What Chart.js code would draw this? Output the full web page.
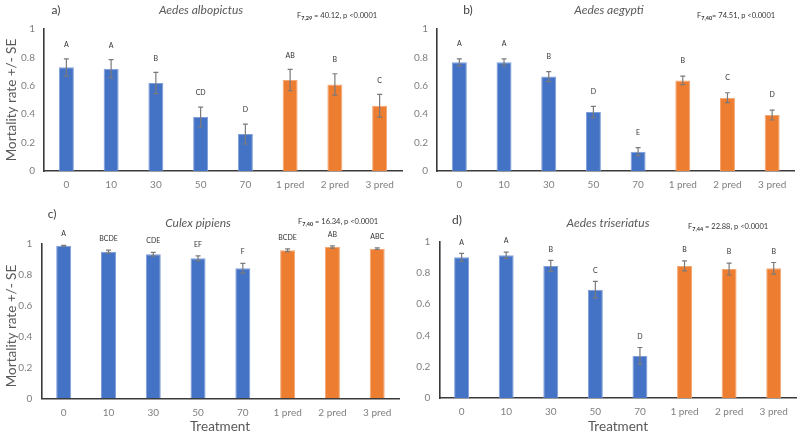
<!DOCTYPE html>
<html>
<head>
<meta charset="utf-8">
<script src="https://cdn.jsdelivr.net/npm/chart.js@4/dist/chart.umd.min.js"></script>
<style>
  body { margin: 0; background: #fff; }
  #wrap { position: relative; width: 800px; height: 436px; }
  canvas { position: absolute; left: 0; top: 0; }
</style>
</head>
<body>
<div id="wrap">
  <canvas id="panelA" width="800" height="436"></canvas>
  <canvas id="panelB" width="800" height="436"></canvas>
  <canvas id="panelC" width="800" height="436"></canvas>
  <canvas id="panelD" width="800" height="436"></canvas>
</div>
<script>
// categories
const treatments = ["0", "10", "30", "50", "70", "1 pred", "2 pred", "3 pred"];

// a) Aedes albopictus
const albopictusMean = [0.73, 0.72, 0.62, 0.38, 0.26, 0.64, 0.61, 0.46];
const albopictusSE = [0.06, 0.065, 0.075, 0.07, 0.07, 0.075, 0.075, 0.08];
const albopictusLetters = ["A", "A", "B", "CD", "D", "AB", "B", "C"];

// b) Aedes aegypti
const aegyptiMean = [0.765, 0.765, 0.665, 0.415, 0.136, 0.638, 0.516, 0.394];
const aegyptiSE = [0.025, 0.025, 0.035, 0.04, 0.028, 0.03, 0.035, 0.035];
const aegyptiLetters = ["A", "A", "B", "D", "E", "B", "C", "D"];

// c) Culex pipiens
const pipiensMean = [0.984, 0.946, 0.929, 0.903, 0.839, 0.955, 0.976, 0.965];
const pipiensSE = [0.003, 0.01, 0.012, 0.016, 0.032, 0.009, 0.007, 0.005];
const pipiensLetters = ["A", "BCDE", "CDE", "EF", "F", "BCDE", "AB", "ABC"];

// d) Aedes triseriatus
const triseriatusMean = [0.90, 0.913, 0.845, 0.693, 0.269, 0.845, 0.825, 0.83];
const triseriatusSE = [0.025, 0.02, 0.035, 0.053, 0.054, 0.032, 0.038, 0.037];
const triseriatusLetters = ["A", "A", "B", "C", "D", "B", "B", "B"];

const yTicks = [0, 0.2, 0.4, 0.6, 0.8, 1];

const BLUE = "#4472C4", BLUE_EDGE = "#7f9fd9";
const ORANGE = "#ED7D31", ORANGE_EDGE = "#f3a774";
const FONT = "Lato";

function isPred(i) { return treatments[i].indexOf("pred") >= 0; }

function drawStat(ctx, x, y, sub, rest) {
    ctx.save();
    ctx.fillStyle = "#333";
    ctx.textAlign = "left";
    ctx.textBaseline = "middle";
    ctx.font = "7.5px " + FONT;
    ctx.fillText("F", x, y);
    let w = ctx.measureText("F").width;
    ctx.font = "bold 5.5px " + FONT;
    ctx.fillText(sub, x + w, y + 2);
    w += ctx.measureText(sub).width;
    ctx.font = "7.5px " + FONT;
    ctx.fillText(rest, x + w, y);
    ctx.restore();
}

function makePanel(id, mean, se, letters, o) {
    const extras = {
        id: "extras_" + id,
        afterDatasetsDraw(chart) {
            const ctx = chart.ctx;
            const meta = chart.getDatasetMeta(0);
            const ys = chart.scales.y;
            ctx.save();
            ctx.strokeStyle = "#7a7a7a";
            ctx.lineWidth = 1.2;
            meta.data.forEach((bar, i) => {
                const x = bar.x;
                const top = ys.getPixelForValue(mean[i] + se[i]);
                const bot = ys.getPixelForValue(mean[i] - se[i]);
                ctx.beginPath();
                ctx.moveTo(x, top); ctx.lineTo(x, bot);
                ctx.moveTo(x - 2.5, top); ctx.lineTo(x + 2.5, top);
                ctx.moveTo(x - 2.5, bot); ctx.lineTo(x + 2.5, bot);
                ctx.stroke();
                ctx.fillStyle = "#333";
                ctx.font = "7px " + FONT;
                ctx.textAlign = "center";
                ctx.textBaseline = "middle";
                ctx.fillText(letters[i], x, top - o.letterGap);
            });
            ctx.restore();
        },
        afterDraw(chart) {
            const ctx = chart.ctx;
            ctx.save();
            ctx.fillStyle = "#404040";
            ctx.textAlign = "center";
            ctx.textBaseline = "middle";
            ctx.font = "12px " + FONT;
            ctx.fillText(o.tag, o.tagX, o.tagY);
            ctx.font = "italic 12px " + FONT;
            ctx.fillStyle = "#595959";
            ctx.fillText(o.title, o.titleX, o.titleY);
            if (o.yTitle) {
                ctx.save();
                ctx.translate(12, o.yTitleY);
                ctx.rotate(-Math.PI / 2);
                ctx.font = "13.5px " + FONT;
                ctx.fillText("Mortality rate +/- SE", 0, 0);
                ctx.restore();
            }
            if (o.xTitle) {
                ctx.font = "13.5px " + FONT;
                ctx.fillText("Treatment", o.xTitleX, 427);
            }
            ctx.restore();
            drawStat(ctx, o.statX, o.statY, o.statSub, o.statRest);
        }
    };

    return new Chart(document.getElementById(id), {
        type: "bar",
        data: {
            labels: treatments,
            datasets: [{
                data: mean,
                backgroundColor: c => isPred(c.dataIndex) ? ORANGE : BLUE,
                borderColor: c => isPred(c.dataIndex) ? ORANGE_EDGE : BLUE_EDGE,
                borderWidth: 1,
                barPercentage: 0.335,
                categoryPercentage: 1
            }]
        },
        options: {
            responsive: false,
            animation: false,
            events: [],
            layout: { padding: o.pad },
            plugins: { legend: { display: false }, tooltip: { enabled: false } },
            scales: {
                x: {
                    grid: { display: false, drawTicks: false },
                    border: { display: true, color: "#3a3a3a", width: 1.6 },
                    ticks: { color: "#7f7f7f", font: { family: FONT, size: 10 }, padding: 8, maxRotation: 0 },
                    afterFit(s) { s.height = 30; }
                },
                y: {
                    min: 0, max: 1,
                    grid: { display: false, drawTicks: false },
                    border: { display: true, color: "#3a3a3a", width: 1.6 },
                    afterBuildTicks(s) { s.ticks = yTicks.map(v => ({ value: v })); },
                    ticks: {
                        color: "#7f7f7f", font: { family: FONT, size: 10 }, padding: 9,
                        callback: v => String(v)
                    },
                    afterFit(s) { s.width = 40; }
                }
            }
        },
        plugins: [extras]
    });
}

makePanel("panelA", albopictusMean, albopictusSE, albopictusLetters, {
    pad: { left: 4, right: 398, top: 29, bottom: 235 },
    letterGap: 14, tag: "a)", tagX: 56, tagY: 10,
    title: "Aedes albopictus", titleX: 201, titleY: 10,
    statX: 297, statY: 16, statSub: "7,29", statRest: " = 40.12, p <0.0001",
    yTitle: true, yTitleY: 100
});

makePanel("panelB", aegyptiMean, aegyptiSE, aegyptiLetters, {
    pad: { left: 397, right: 5.5, top: 29, bottom: 235 },
    letterGap: 15, tag: "b)", tagX: 468, tagY: 10,
    title: "Aedes aegypti", titleX: 609, titleY: 10,
    statX: 697, statY: 16, statSub: "7,40", statRest: "= 74.51, p <0.0001"
});

makePanel("panelC", pipiensMean, pipiensSE, pipiensLetters, {
    pad: { left: 1.3, right: 400.4, top: 243.3, bottom: 7.7 },
    letterGap: 11.5, tag: "c)", tagX: 52, tagY: 214,
    title: "Culex pipiens", titleX: 198, titleY: 223,
    statX: 298, statY: 222, statSub: "7,40", statRest: " = 16.34, p <0.0001",
    yTitle: true, yTitleY: 326, xTitle: true, xTitleX: 220
});

makePanel("panelD", triseriatusMean, triseriatusSE, triseriatusLetters, {
    pad: { left: 399.3, right: 4, top: 241.7, bottom: 8 },
    letterGap: 11, tag: "d)", tagX: 457, tagY: 220,
    title: "Aedes triseriatus", titleX: 608, titleY: 223,
    statX: 688, statY: 227, statSub: "7,44", statRest: " = 22.88, p <0.0001",
    xTitle: true, xTitleX: 618
});
</script>
</body>
</html>
